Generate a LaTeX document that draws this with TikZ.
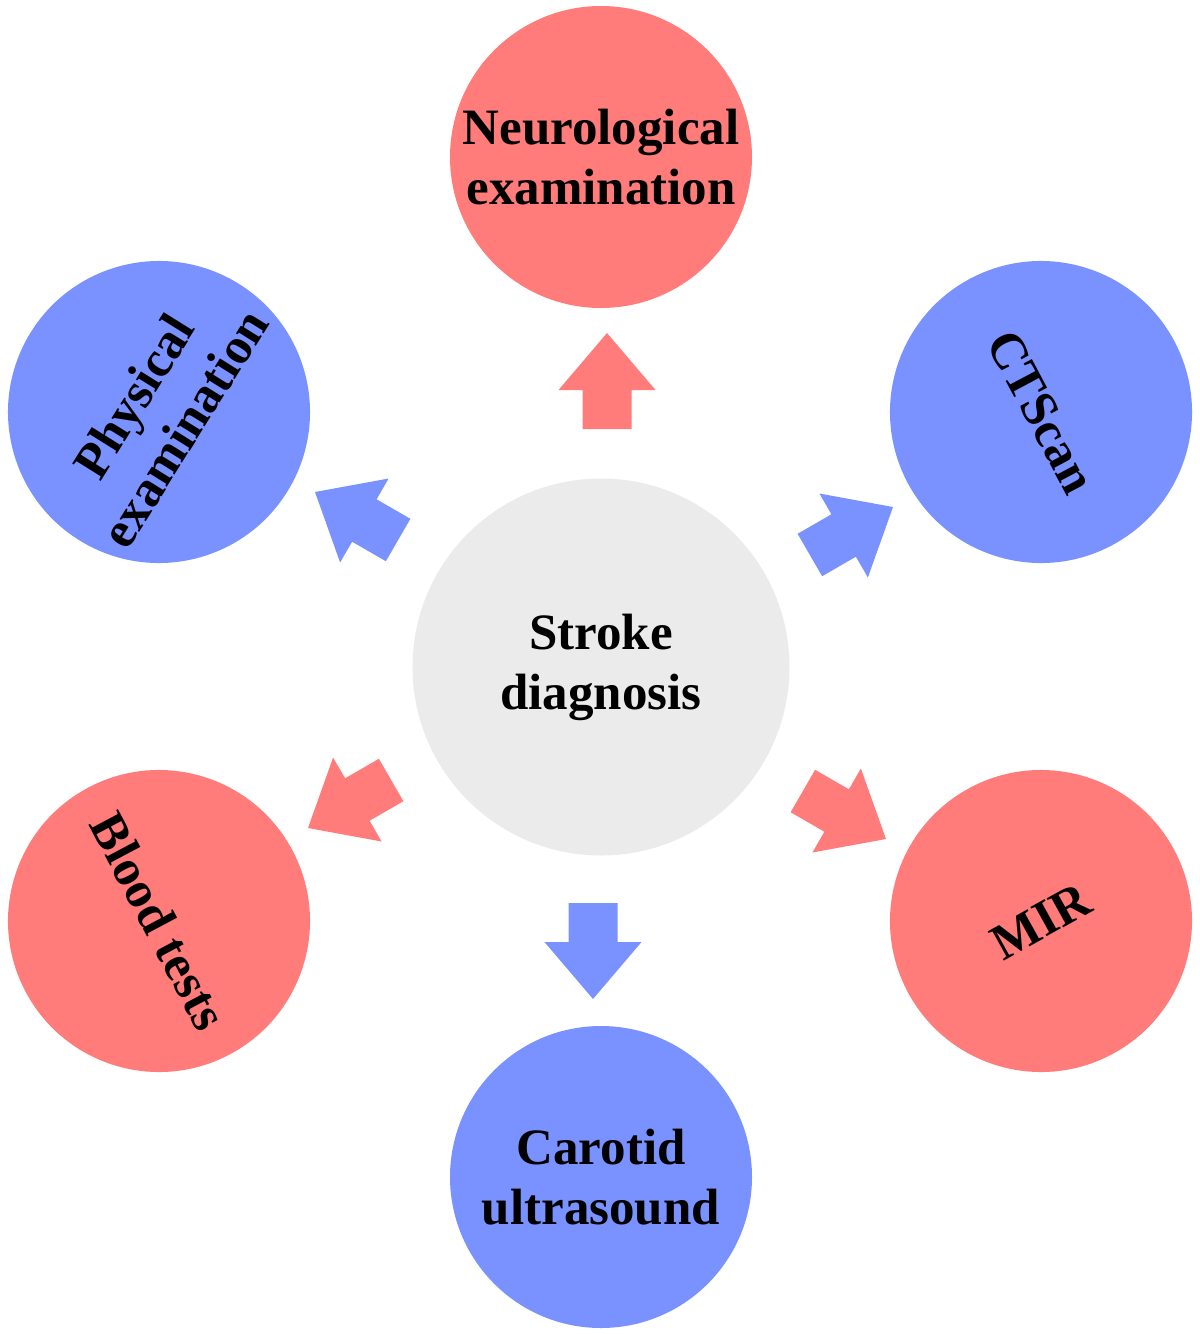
\documentclass[tikz,border=0pt]{standalone}
\usepackage{fontspec}
\setmainfont{Liberation Serif}
\definecolor{redc}{RGB}{255,124,122}
\definecolor{bluec}{RGB}{122,146,255}
\definecolor{grayc}{RGB}{235,235,235}
\begin{document}
\begin{tikzpicture}[x=1pt,y=-1pt,
  bubble/.style={circle, inner sep=0pt, minimum size=302pt, align=center,
    font=\fontsize{51}{60}\selectfont\bfseries},
  redbub/.style={bubble, fill=redc},
  bluebub/.style={bubble, fill=bluec},
  hub/.style={bubble, fill=grayc, minimum size=377pt},
  barrow/.pic={\fill[#1] (0,0) -- (-57,-48.5) -- (-57,-24.5) -- (-96,-24.5)
     -- (-96,24.5) -- (-57,24.5) -- (-57,48.5) -- cycle;}
]
\useasboundingbox (0,0) rectangle (1200,1334);
\node[hub] (center) at (601,667) {Stroke\\diagnosis};
\node[redbub] (neuro) at (601,157) {Neurological\\examination};
\node[bluebub, rotate=58] (phys) at (159,412) {Physical\\examination};
\node[bluebub, rotate=-62] (ct) at (1041,412) {CTScan};
\node[redbub, rotate=-62] (blood) at (159,921) {Blood tests};
\node[redbub, rotate=29] (mir) at (1041,921) {MIR};
\node[bluebub] (carotid) at (601,1177) {Carotid\\ultrasound};
% block arrows from hub to outer circles
\coordinate (tneuro) at (607,333);
\coordinate (tcar) at (593,999);
\coordinate (tphys) at (315,492);
\coordinate (tct) at (893,507);
\coordinate (tblood) at (308,828);
\coordinate (tmir) at (886,839);
\pic[rotate=90] at (tneuro) {barrow=redc};
\pic[rotate=-90] at (tcar) {barrow=bluec};
\pic[rotate=150] at (tphys) {barrow=bluec};
\pic[rotate=30] at (tct) {barrow=bluec};
\pic[rotate=210] at (tblood) {barrow=redc};
\pic[rotate=-30] at (tmir) {barrow=redc};
\end{tikzpicture}
\end{document}
